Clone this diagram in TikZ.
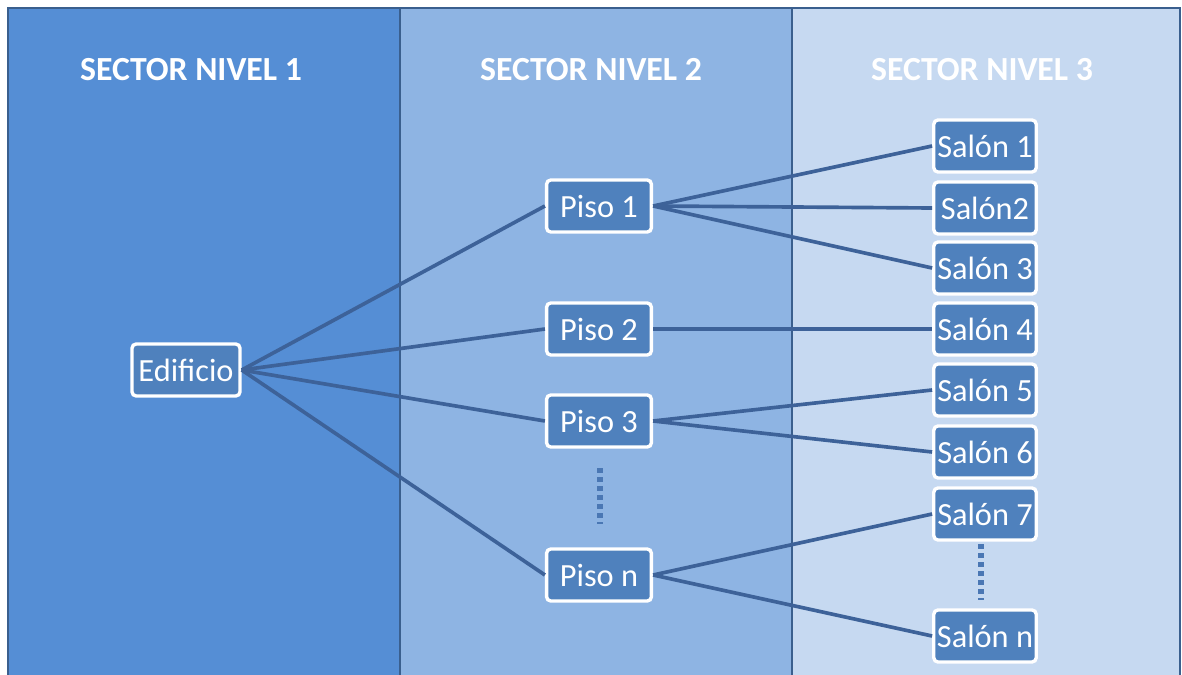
\documentclass[tikz,border=0pt]{standalone}
\usepackage{fontspec}
\setmainfont{Carlito}
\definecolor{panelA}{HTML}{558ED5}
\definecolor{panelB}{HTML}{8EB4E3}
\definecolor{panelC}{HTML}{C6D9F1}
\definecolor{panelline}{HTML}{3A5F8E}
\definecolor{boxblue}{HTML}{4F81BD}
\definecolor{linkblue}{HTML}{3D6299}
\definecolor{dotblue}{HTML}{4A77B4}
\begin{document}
\begin{tikzpicture}[x=0.025cm,y=-0.025cm]

        \tikzstyle{box}=[draw=white, line width=2.4pt, fill=boxblue, rounded corners=3pt, text=white, minimum width=2.62cm, minimum height=1.3cm, inner sep=1pt, font=\fontsize{23}{27}\selectfont]
        \tikzstyle{link}=[draw=linkblue, line width=2.6pt]
        \tikzstyle{title}=[text=white, font=\bfseries\fontsize{24}{28}\selectfont]
        \tikzstyle{dots}=[draw=dotblue, line width=4pt, dash pattern=on 3.6pt off 2.8pt]

        \clip (0,0) rectangle (1182,675);
        \fill[white] (0,0) rectangle (1182,675);

        % columns
        \foreach \a / \b / \c / \m [count=\i] in {8/400/panelA/191, 400/792/panelB/591, 792/1180/panelC/982} {
            \draw[draw=panelline, line width=1.6pt, fill=\c] (\a,8) rectangle (\b,700);
            \node[title] (t_\i) at (\m,70) {SECTOR NIVEL \i};
        }

        \node[box, minimum width=2.7cm] (edificio) at (186,370) {Edificio};

        \foreach \n / \y in {1/206,2/329,3/421,n/575} {
            \node[box, minimum width=2.62cm] (p_\n) at (599,\y) {Piso \n};
            \draw[link] (edificio.east) -- (p_\n.west);
        }

        \foreach \n / \y / \t in {1/146/Salón 1, 2/208/Salón2, 3/268/Salón 3, 4/329/Salón 4, 5/390/Salón 5, 6/452/Salón 6, 7/514/Salón 7, n/636/Salón n} {
            \node[box, minimum width=2.56cm] (s_\n) at (985,\y) {\t};
        }

        \foreach \p / \s in {1/1,1/2,1/3,2/4,3/5,3/6,n/7,n/n} {
            \draw[link] (p_\p.east) -- (s_\s.west);
        }

        \coordinate (pa) at (600,468);
        \coordinate (pb) at (600,524);
        \coordinate (sa) at (981,544);
        \coordinate (sb) at (981,600);
        \draw[dots] (pa) -- (pb);
        \draw[dots] (sa) -- (sb);

    \end{tikzpicture}
\end{document}
